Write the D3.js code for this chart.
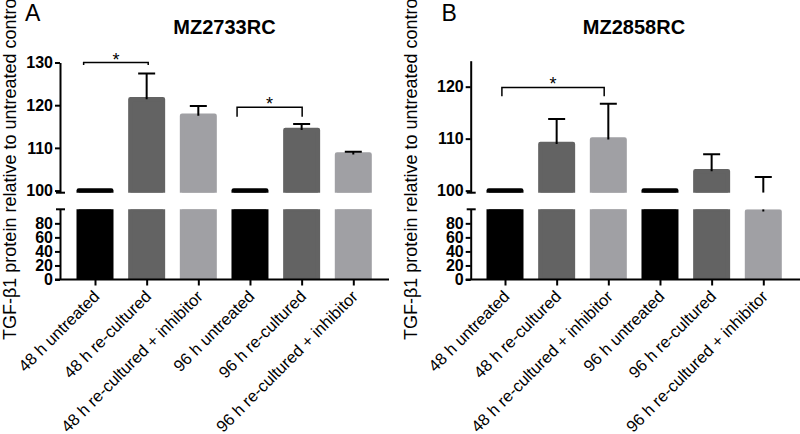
<!DOCTYPE html>
<html><head><meta charset="utf-8">
<script src="https://cdn.jsdelivr.net/npm/d3@7"></script>
<style>body{margin:0;background:#fff} svg text{font-family:"Liberation Sans",Arial,Helvetica,sans-serif}</style>
</head><body><svg id="chart" width="800" height="434"></svg>
<script>
// ---- data ----
const categories = ["48 h untreated","48 h re-cultured","48 h re-cultured + inhibitor","96 h untreated","96 h re-cultured","96 h re-cultured + inhibitor"];
const barColors = ["#000000","#636363","#a0a0a4","#000000","#636363","#a0a0a4"];
const panelLetters = ["A","B"];
const panelTitles = ["MZ2733RC","MZ2858RC"];
const yLabel = "TGF-\u03B21 protein relative to untreated control";
const meansA = [100, 121.4, 117.5, 100, 114.2, 108.45];
const errA   = [0, 6.0, 2.3, 0, 1.4, 0.65];
const meansB = [100, 108.95, 109.85, 100, 103.75, 97.0];
const errB   = [0, 4.85, 6.85, 0, 3.25, 5.6];
const upperTicksA = [100,110,120,130];
const upperTicksB = [100,110,120];
const lowerTicks = [0,20,40,60,80];
const upperDomainA = [99.5,130];
const upperDomainB = [99.6,125];
const lowerDomain = [0,100];
// brackets: positions in category-index units, level in data units
const bracketsA = [{from:-0.22,to:1.03,level:131.3,leg:1.9,label:"*"},{from:2.75,to:4.01,level:119.5,leg:2.2,label:"*"}];
const bracketsB = [{from:-0.06,to:1.92,level:119.85,leg:1.7,label:"*"}];

// ---- layout ----
const layouts = [
  {axisX:60, xFirst:95, xLast:353.3, xEnd:389, letterX:25, titleX:224.5, yLabelX:16},
  {axisX:470.7, xFirst:505, xLast:763.3, xEnd:800, letterX:441.5, titleX:634, yLabelX:416.5}
];
const upperRange = [192.7, 62.5];
const upperRangeB = [192.7, 60.7];
const lowerRange = [279.5, 209.3];
const barW = 37, strokeW = 4.5;

const svg = d3.select("#chart");
svg.append("rect").attr("width",800).attr("height",434).attr("fill","#fff");

function drawPanel(idx, means, errs, brackets, upperTicks, upperDomain, uRange){
  const L = layouts[idx];
  const g = svg.append("g");
  const x = d3.scalePoint().domain(categories).range([L.xFirst, L.xLast]);
  const xi = d3.scaleLinear().domain([0, categories.length-1]).range([L.xFirst, L.xLast]);
  const yU = d3.scaleLinear().domain(upperDomain).range(uRange).clamp(true);
  const yL = d3.scaleLinear().domain(lowerDomain).range(lowerRange).clamp(true);

  const defs = g.append("defs");
  defs.append("clipPath").attr("id","clipU"+idx).append("rect")
    .attr("x", L.axisX).attr("y", 0).attr("width", 800).attr("height", uRange[0]);
  defs.append("clipPath").attr("id","clipL"+idx).append("rect")
    .attr("x", L.axisX).attr("y", lowerRange[1]).attr("width", 800).attr("height", lowerRange[0]-lowerRange[1]);
  const segs = [{y:yU, id:"clipU"+idx}, {y:yL, id:"clipL"+idx}];

  const data = categories.map((c,i)=>({c, m:means[i], e:errs[i], col:barColors[i]}));

  segs.forEach(s => {
    const sg = g.append("g").attr("clip-path", `url(#${s.id})`);
    const base = s.y.domain()[0];
    sg.selectAll("rect.bar").data(data).join("rect")
      .attr("x", d => x(d.c) - barW/2 + strokeW/2)
      .attr("width", barW - strokeW)
      .attr("y", d => s.y(d.m))
      .attr("height", d => Math.max(0, s.y(base) - s.y(d.m)))
      .attr("fill", d => d.col).attr("stroke", d => d.col)
      .attr("stroke-width", strokeW).attr("stroke-linejoin","round");
    const ed = data.filter(d => d.e > 0);
    sg.selectAll("line.err").data(ed).join("line")
      .attr("x1", d => x(d.c)).attr("x2", d => x(d.c))
      .attr("y1", d => s.y(d.m)).attr("y2", d => s.y(d.m + d.e))
      .attr("stroke","#000").attr("stroke-width",2);
    const dm = s.y.domain();
    sg.selectAll("line.cap").data(ed.filter(d => d.m + d.e >= dm[0] && d.m + d.e <= dm[1])).join("line")
      .attr("x1", d => x(d.c) - 8.5).attr("x2", d => x(d.c) + 8.5)
      .attr("y1", d => s.y(d.m + d.e)).attr("y2", d => s.y(d.m + d.e))
      .attr("stroke","#000").attr("stroke-width",2);
  });

  // y axes
  function styleAxis(a){
    a.attr("font-size", null).attr("font-family", null);
    a.selectAll("path,line").attr("stroke","#000").attr("stroke-width",2);
    a.selectAll("text").attr("font-size","16px").attr("font-weight","bold").attr("fill","#000");
  }
  const au = g.append("g").attr("transform",`translate(${L.axisX},0)`)
    .call(d3.axisLeft(yU).tickValues(upperTicks).tickSize(5).tickSizeOuter(0).tickPadding(2));
  styleAxis(au);
  const al = g.append("g").attr("transform",`translate(${L.axisX},0)`)
    .call(d3.axisLeft(yL).tickValues(lowerTicks).tickSize(5).tickSizeOuter(0).tickPadding(2));
  styleAxis(al);
  // break marks
  [uRange[0], lowerRange[1]].forEach(yy => {
    g.append("line").attr("x1", L.axisX-4).attr("x2", L.axisX+5)
      .attr("y1", yy).attr("y2", yy).attr("stroke","#000").attr("stroke-width",2);
  });

  // x axis
  const ax = g.append("g").attr("transform",`translate(0,${lowerRange[0]})`)
    .call(d3.axisBottom(x).tickSize(6).tickSizeOuter(0).tickPadding(0));
  ax.attr("font-size", null).attr("font-family", null);
  ax.select(".domain").remove();
  ax.selectAll("line").attr("stroke","#000").attr("stroke-width",2);
  ax.selectAll("text").attr("font-size","16.5px").attr("fill","#000")
    .attr("text-anchor","end").attr("y",0).attr("dy",0)
    .attr("transform","translate(5,18) rotate(-45)");
  g.append("line").attr("x1", L.axisX-5).attr("x2", L.xEnd)
    .attr("y1", lowerRange[0]).attr("y2", lowerRange[0])
    .attr("stroke","#000").attr("stroke-width",2);

  // brackets
  brackets.forEach(b => {
    const x1 = xi(b.from), x2 = xi(b.to), yy = yU(b.level), yl = yU(b.level - b.leg);
    g.append("path").attr("d", `M${x1},${yl}V${yy}H${x2}V${yl}`)
      .attr("fill","none").attr("stroke","#000").attr("stroke-width",1.5);
    g.append("text").attr("x",(x1+x2)/2).attr("y", yy+3).attr("text-anchor","middle")
      .attr("font-size","18px").text(b.label);
  });

  // titles
  g.append("text").attr("x", L.letterX).attr("y", 21).attr("font-size","23px").text(panelLetters[idx]);
  g.append("text").attr("x", L.titleX).attr("y", 33.5).attr("text-anchor","middle")
    .attr("font-size","20px").attr("font-weight","bold").text(panelTitles[idx]);
  g.append("text").attr("transform",`translate(${L.yLabelX},340) rotate(-90)`)
    .attr("font-size","18px").text(yLabel);
}

drawPanel(0, meansA, errA, bracketsA, upperTicksA, upperDomainA, upperRange);
drawPanel(1, meansB, errB, bracketsB, upperTicksB, upperDomainB, upperRangeB);
</script></body></html>
